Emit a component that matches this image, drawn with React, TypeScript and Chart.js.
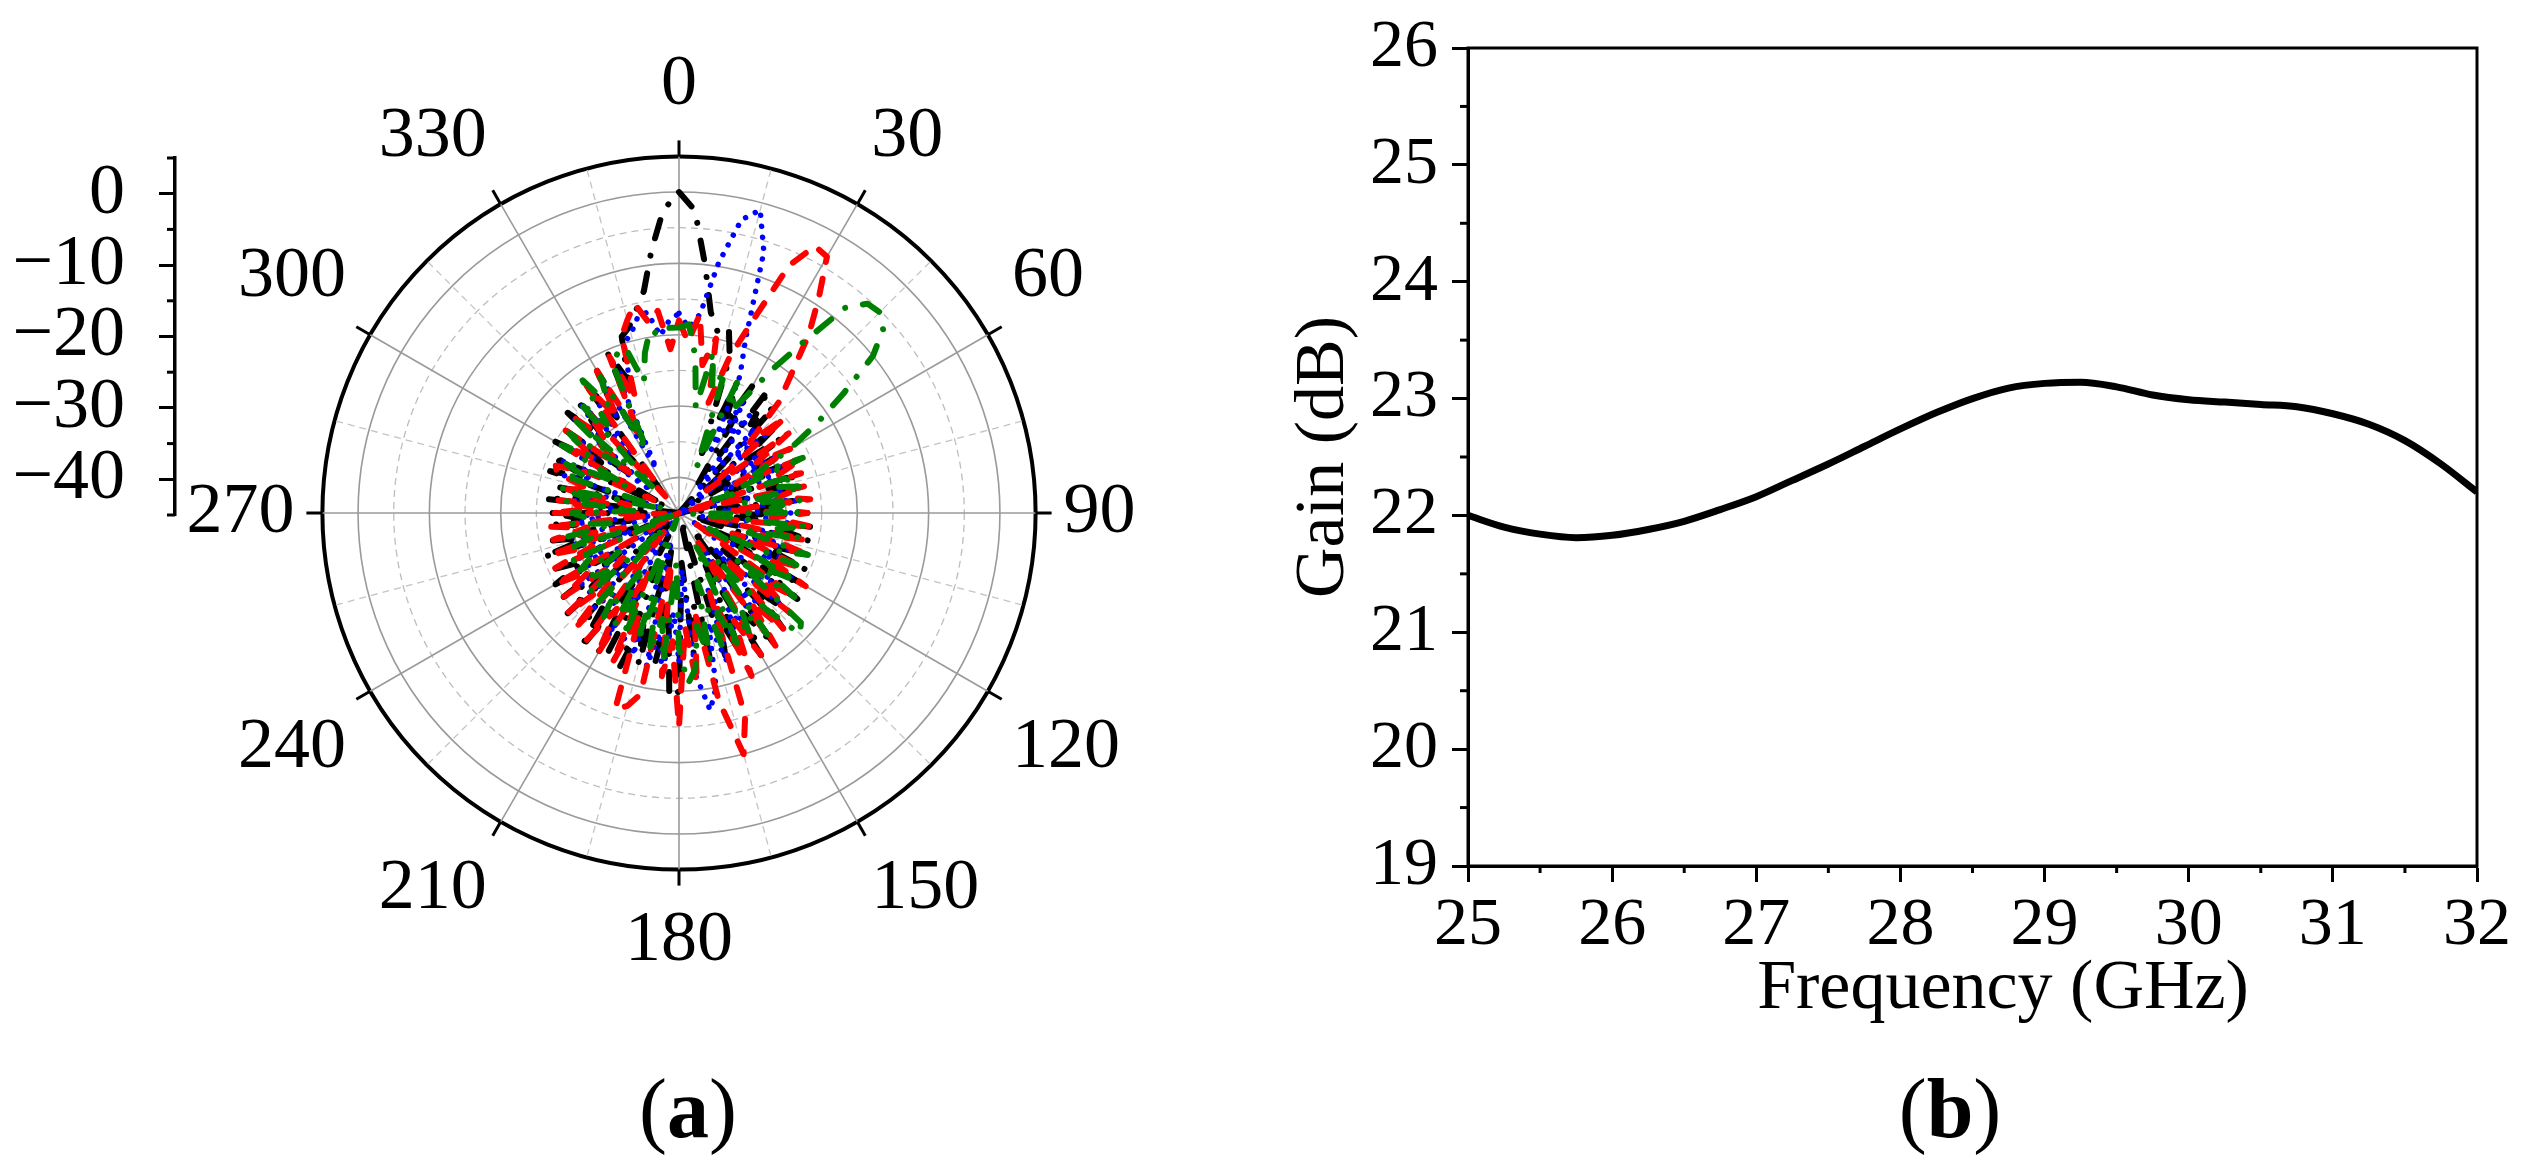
import React, { useEffect, useRef } from 'react';
import { Chart, registerables } from 'chart.js';

Chart.register(...registerables);

const FONT = "'Liberation Serif', 'Times New Roman', Times, serif";

// ---------- Polar pattern (angle step 3 deg, clockwise from top) ----------
const ANGLE_LABELS: string[] = Array.from({ length: 120 }, (_, i) => String(i * 3));

const BLACK = [
  0, -2.5, -10, -16.5, -19, -18, -22, -36, -25, -31,
  -24.5, -40, -23.5, -29, -25, -45, -26, -34, -27, -42,
  -27, -35, -26, -41, -27.5, -32, -26.5, -45, -28, -34,
  -27, -39, -26.5, -31, -26, -43, -27, -33, -25.5, -40,
  -25, -31, -24.5, -38, -24, -30, -23, -42, -22, -28,
  -22, -37, -23, -29, -24, -44, -23, -32, -25, -38,
  -20, -19, -31, -24, -40, -23, -29, -22, -42, -23,
  -22, -33, -21.5, -28, -24, -45, -24, -31, -25, -37,
  -25, -30, -25.5, -42, -25, -32, -26, -38, -26.5, -31,
  -27, -45, -26, -32, -27, -39, -26, -31, -25.5, -43,
  -25, -32, -25, -37, -24, -30, -23.5, -41, -23, -29,
  -22, -35, -20.5, -25, -19, -18, -16, -13.5, -8, -2.5,
];

const BLUE = [
  -17, -19, -17, -9.5, -3, -1, -6.5, -19, -24, -35,
  -27, -32, -28, -41, -29, -34, -28, -45, -30, -35,
  -29, -38, -28, -33, -30, -45, -29, -34, -28.5, -39,
  -29, -33, -28, -42, -29, -35, -27, -37, -28, -32,
  -27, -43, -27, -32, -26, -38, -27, -31, -25, -40,
  -25, -30, -24, -34, -23, -29, -20, -17, -22, -37,
  -24, -31, -22, -28, -23, -41, -24, -29, -25, -34,
  -25, -44, -26, -31, -27, -36, -27.5, -32, -28, -43,
  -28, -33, -29, -38, -28, -32, -29.5, -45, -29, -34,
  -30, -37, -29, -33, -29, -42, -28, -32, -27, -36,
  -27, -31, -26, -40, -25, -30, -24, -34, -24, -29,
  -23, -38, -22, -26, -20, -19, -17, -16.5, -20, -18,
];

const RED = [
  -18, -21, -17, -24, -20, -29, -22, -16, -7, -3,
  -3.5, -9, -14, -20, -24, -31, -25, -40, -26, -32,
  -27, -36, -26, -30, -27, -44, -27, -31, -26.5, -38,
  -27, -32, -26, -41, -27, -33, -25.5, -37, -26, -31,
  -24.5, -42, -25, -30, -24, -36, -23, -29, -22, -40,
  -22, -28, -20, -33, -15, -10, -18, -31, -21, -29,
  -15, -27, -22, -38, -19, -17, -16, -30, -22, -36,
  -22, -29, -23, -42, -23, -31, -24, -35, -25, -30,
  -25, -45, -26, -32, -26, -37, -27, -32, -26.5, -43,
  -27, -33, -28, -38, -29, -32, -27, -26.5, -31, -41,
  -26, -31, -25, -36, -24.5, -30, -26, -42, -23, -29,
  -22, -33, -21, -28, -19, -17, -15, -18, -16.5, -22,
];

const GREEN = [
  -19, -18.5, -23, -30, -22, -27, -24, -38, -25, -29,
  -26, -21, -15.5, -8, -5.5, -5.2, -6.5, -10, -16.5, -22,
  -27, -33, -26, -40, -28, -31, -27, -36, -28, -32,
  -28, -43, -27, -31, -27.5, -36, -26, -30, -27, -41,
  -26, -31, -25, -35, -22, -21, -27, -37, -24, -29,
  -25, -40, -24, -30, -25, -35, -24, -29, -23, -21,
  -26, -38, -24, -30, -25, -33, -26, -44, -26, -31,
  -27, -36, -27, -31, -28, -42, -28, -32, -29, -35,
  -29, -31, -28.5, -45, -29, -33, -29, -36, -30, -32,
  -30, -39, -29, -32, -28, -43, -28, -31, -27, -37,
  -26, -30, -26, -34, -25, -40, -24, -29, -22, -27,
  -23, -35, -22, -21, -20.5, -26, -22, -19, -20, -19,
];

const R_MIN = -45;
const R_MAX = 5;
const RADIAL_MAJOR = [-40, -30, -20, -10, 0];
const RADIAL_MINOR = [-45, -35, -25, -15, -5, 5];

// ---------- Gain vs frequency ----------
const FREQ = [25, 25.25, 25.5, 25.75, 26, 26.25, 26.5, 26.75, 27, 27.25, 27.5, 27.75, 28, 28.25, 28.5, 28.75, 29, 29.25, 29.5, 29.75, 30, 30.25, 30.5, 30.75, 31, 31.25, 31.5, 31.75, 32];
const GAIN = [22.0, 21.9, 21.84, 21.81, 21.83, 21.88, 21.95, 22.05, 22.16, 22.3, 22.44, 22.59, 22.74, 22.88, 23.0, 23.09, 23.13, 23.14, 23.1, 23.03, 22.99, 22.97, 22.95, 22.93, 22.87, 22.78, 22.64, 22.44, 22.2];
const X_TICKS = [25, 26, 27, 28, 29, 30, 31, 32];
const Y_TICKS = [19, 20, 21, 22, 23, 24, 25, 26];
const X_MINOR = [25.5, 26.5, 27.5, 28.5, 29.5, 30.5, 31.5];
const Y_MINOR = [19.5, 20.5, 21.5, 22.5, 23.5, 24.5, 25.5];

const minorTicksPlugin: any = {
  id: 'minorTicks',
  afterDraw(chart: any, _args: any, opts: any) {
    const ctx = chart.ctx;
    (opts.items || []).forEach((it: any) => {
      const scale = chart.scales[it.scaleID];
      if (!scale) return;
      ctx.save();
      ctx.strokeStyle = '#000';
      ctx.lineWidth = it.width;
      it.values.forEach((v: number) => {
        const p = scale.getPixelForValue(v);
        ctx.beginPath();
        if (scale.isHorizontal()) {
          ctx.moveTo(p, scale.top);
          ctx.lineTo(p, scale.top + it.length);
        } else {
          ctx.moveTo(scale.right, p);
          ctx.lineTo(scale.right - it.length, p);
        }
        ctx.stroke();
      });
      ctx.restore();
    });
  },
};

const framePlugin: any = {
  id: 'frame',
  afterDraw(chart: any, _args: any, opts: any) {
    const { ctx, chartArea } = chart;
    ctx.save();
    ctx.strokeStyle = '#000';
    ctx.lineWidth = opts.width || 3;
    ctx.strokeRect(chartArea.left, chartArea.top, chartArea.right - chartArea.left, chartArea.bottom - chartArea.top);
    ctx.restore();
  },
};

const polarTicksPlugin: any = {
  id: 'polarTicks',
  afterDraw(chart: any, _args: any, opts: any) {
    const r = chart.scales.r;
    const ctx = chart.ctx;
    const n = chart.data.labels.length;
    ctx.save();
    ctx.strokeStyle = '#000';
    ctx.lineWidth = opts.width;
    for (let i = 0; i < n; i += opts.every) {
      const a = r.getPointPosition(i, r.drawingArea);
      const b = r.getPointPosition(i, r.drawingArea + opts.length);
      ctx.beginPath();
      ctx.moveTo(a.x, a.y);
      ctx.lineTo(b.x, b.y);
      ctx.stroke();
    }
    ctx.restore();
  },
};

const fmtDb = (v: number) => (v < 0 ? '\u2212' + Math.abs(v) : String(v));

export default function App() {
  const axisRef = useRef<HTMLCanvasElement | null>(null);
  const polarRef = useRef<HTMLCanvasElement | null>(null);
  const gainRef = useRef<HTMLCanvasElement | null>(null);

  useEffect(() => {
    const charts: any[] = [];

    // Radial dB axis shown at the left of the polar plot
    charts.push(
      new Chart(axisRef.current as HTMLCanvasElement, {
        type: 'line',
        data: { datasets: [] },
        plugins: [minorTicksPlugin],
        options: {
          responsive: false,
          animation: false,
          events: [],
          layout: { padding: { left: 0, right: 10, top: 78, bottom: 78 } },
          plugins: {
            legend: { display: false },
            tooltip: { enabled: false },
            minorTicks: { items: [{ scaleID: 'y', values: RADIAL_MINOR, length: 8, width: 3 }] },
          } as any,
          scales: {
            x: { display: false },
            y: {
              type: 'linear',
              min: R_MIN,
              max: R_MAX,
              afterBuildTicks: (s: any) => {
                s.ticks = RADIAL_MAJOR.map((v) => ({ value: v }));
              },
              afterFit: (s: any) => {
                s.width = 175;
              },
              grid: { drawOnChartArea: false, tickLength: 16, tickWidth: 3, tickColor: '#000' },
              border: { display: true, color: '#000', width: 3.5 },
              ticks: { color: '#000', autoSkip: false, font: { family: FONT, size: 72 }, padding: 34, callback: (v: any) => fmtDb(Number(v)) },
            } as any,
          },
        },
      })
    );

    // Polar radiation pattern
    const lineCommon = { fill: false, pointRadius: 0, borderCapStyle: 'round', borderJoinStyle: 'round', tension: 0 };
    charts.push(
      new Chart(polarRef.current as HTMLCanvasElement, {
        type: 'radar',
        data: {
          labels: ANGLE_LABELS,
          datasets: [
            { ...lineCommon, label: 'black', data: BLACK, borderColor: '#000000', borderWidth: 6, borderDash: [19, 18, 0.01, 18], order: 4 },
            { ...lineCommon, label: 'blue', data: BLUE, borderColor: '#0000ff', borderWidth: 5.5, borderDash: [0.01, 11], order: 3 },
            { ...lineCommon, label: 'red', data: RED, borderColor: '#ff0000', borderWidth: 6, borderDash: [16, 17], order: 2 },
            { ...lineCommon, label: 'green', data: GREEN, borderColor: '#008000', borderWidth: 6, borderDash: [19, 18, 0.01, 18], order: 1 },
          ] as any,
        },
        plugins: [polarTicksPlugin],
        options: {
          responsive: false,
          animation: false,
          events: [],
          layout: { padding: 0 },
          plugins: {
            legend: { display: false },
            tooltip: { enabled: false },
            polarTicks: { every: 10, length: 16, width: 3 },
          } as any,
          scales: {
            r: {
              min: R_MIN,
              max: R_MAX,
              startAngle: 0,
              ticks: { display: false, stepSize: 5 },
              grid: {
                circular: true,
                color: (c: any) => {
                  const v = c.tick ? c.tick.value : 0;
                  if (v === R_MAX) return '#000000';
                  return v % 10 === 0 ? '#9a9a9a' : '#bdbdbd';
                },
                lineWidth: (c: any) => {
                  const v = c.tick ? c.tick.value : 0;
                  if (v === R_MIN) return 0;
                  if (v === R_MAX) return 4;
                  return v % 10 === 0 ? 1.6 : 1.3;
                },
              },
              border: {
                dash: (c: any) => {
                  const v = c.tick ? c.tick.value : 0;
                  if (v === R_MAX || v % 10 === 0) return [];
                  return [7, 5];
                },
              },
              angleLines: {
                display: true,
                color: (c: any) => (c.index % 10 === 0 ? '#9a9a9a' : '#c4c4c4'),
                lineWidth: (c: any) => (c.index % 10 === 0 ? 1.6 : c.index % 5 === 0 ? 1.3 : 0),
                borderDash: (c: any) => (c.index % 10 === 0 ? [] : [7, 5]),
              },
              pointLabels: {
                display: true,
                color: '#000',
                padding: 28,
                font: { family: FONT, size: 72 },
                callback: (label: any, i: number) => (i % 10 === 0 ? label : ''),
              },
            } as any,
          },
        },
      })
    );

    // Gain vs frequency
    charts.push(
      new Chart(gainRef.current as HTMLCanvasElement, {
        type: 'line',
        data: {
          datasets: [
            {
              data: FREQ.map((f, i) => ({ x: f, y: GAIN[i] })),
              borderColor: '#000',
              borderWidth: 7,
              pointRadius: 0,
              fill: false,
              tension: 0.4,
              cubicInterpolationMode: 'monotone',
            } as any,
          ],
        },
        plugins: [minorTicksPlugin, framePlugin],
        options: {
          responsive: false,
          animation: false,
          events: [],
          layout: { padding: { left: 0, top: 56, right: 50, bottom: 0 } },
          plugins: {
            legend: { display: false },
            tooltip: { enabled: false },
            minorTicks: {
              items: [
                { scaleID: 'x', values: X_MINOR, length: 7, width: 3 },
                { scaleID: 'y', values: Y_MINOR, length: 8, width: 3 },
              ],
            },
            frame: { width: 3 },
          } as any,
          scales: {
            x: {
              type: 'linear',
              min: 25,
              max: 32,
              afterBuildTicks: (s: any) => {
                s.ticks = X_TICKS.map((v) => ({ value: v }));
              },
              afterFit: (s: any) => {
                s.height = 292;
              },
              grid: { drawOnChartArea: false, tickLength: 16, tickWidth: 3, tickColor: '#000' },
              border: { display: true, color: '#000', width: 3 },
              ticks: { color: '#000', font: { family: FONT, size: 68 }, padding: 3, maxRotation: 0, autoSkip: false },
            } as any,
            y: {
              type: 'linear',
              min: 19,
              max: 26,
              afterBuildTicks: (s: any) => {
                s.ticks = Y_TICKS.map((v) => ({ value: v }));
              },
              afterFit: (s: any) => {
                s.width = 218;
              },
              grid: { drawOnChartArea: false, tickLength: 16, tickWidth: 3, tickColor: '#000' },
              border: { display: true, color: '#000', width: 3 },
              ticks: { color: '#000', font: { family: FONT, size: 68 }, padding: 14, autoSkip: false },
              title: {
                display: true,
                text: 'Gain (dB)',
                color: '#000',
                font: { family: FONT, size: 70 },
                padding: { top: 33, bottom: 0 },
              },
            } as any,
          },
        },
      })
    );

    return () => {
      charts.forEach((c) => c.destroy());
    };
  }, []);

  const abs: React.CSSProperties = { position: 'absolute' };
  return (
    <div style={{ position: 'fixed', left: 0, top: 0, width: 2527, height: 1158, background: '#fff', overflow: 'hidden', fontFamily: FONT, color: '#000' }}>
      <canvas ref={axisRef} width={200} height={513} style={{ ...abs, left: 0, top: 80 }} />
      <canvas ref={polarRef} width={1220} height={942} style={{ ...abs, left: 69, top: 43 }} />
      <canvas ref={gainRef} width={1277} height={1166} style={{ ...abs, left: 1250, top: -8 }} />
      <div style={{ ...abs, left: 2003, top: 950, transform: 'translateX(-50%)', fontSize: 70, lineHeight: '70px', whiteSpace: 'nowrap' }}>
        Frequency (GHz)
      </div>
      <div style={{ ...abs, left: 688, top: 1067, transform: 'translateX(-50%)', fontSize: 84, lineHeight: '84px', whiteSpace: 'nowrap' }}>
        (<b>a</b>)
      </div>
      <div style={{ ...abs, left: 1950, top: 1067, transform: 'translateX(-50%)', fontSize: 84, lineHeight: '84px', whiteSpace: 'nowrap' }}>
        (<b>b</b>)
      </div>
    </div>
  );
}
